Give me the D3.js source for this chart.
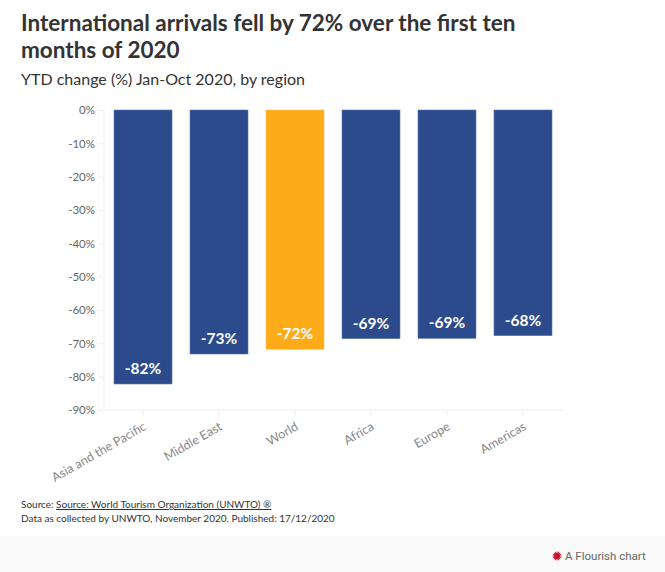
<!DOCTYPE html>
<html>
<head>
<meta charset="utf-8">
<script src="https://cdn.jsdelivr.net/npm/d3@7"></script>
<style>
  html, body { margin: 0; padding: 0; background: #fff; }
  svg { display: block; }
</style>
</head>
<body>
<svg id="chart" width="665" height="572"></svg>
<script>
const categories = ["Asia and the Pacific", "Middle East", "World", "Africa", "Europe", "Americas"];
const values = [-82.2, -73.2, -71.8, -68.6, -68.5, -67.7];
const valueLabels = ["-82%", "-73%", "-72%", "-69%", "-69%", "-68%"];
const highlight = ["World"];
const yTicks = [0, -10, -20, -30, -40, -50, -60, -70, -80, -90];

const svg = d3.select("#chart");
const FONT = "Lato, 'Source Sans Pro', 'Noto Sans', sans-serif";
const BLUE = "#2c4b8c", ORANGE = "#fdab19";

// footer band
svg.append("rect").attr("x", 0).attr("y", 536).attr("width", 665).attr("height", 36).attr("fill", "#fafafa");

// title
const title = svg.append("text").attr("x", 21).attr("font-family", FONT).attr("font-weight", 700)
  .attr("font-size", 22.5).attr("fill", "#333");
title.append("tspan").attr("x", 21).attr("y", 31).text("International arrivals fell by 72% over the first ten");
title.append("tspan").attr("x", 21).attr("y", 58).text("months of 2020");

svg.append("text").attr("x", 21).attr("y", 85).attr("font-family", FONT).attr("font-size", 16)
  .attr("fill", "#333").text("YTD change (%) Jan-Oct 2020, by region");

const x = d3.scaleBand().domain(categories).range([103, 563]).paddingInner(0.237).paddingOuter(0.145);
const y = d3.scaleLinear().domain([0, -90]).range([110, 410]);

// y axis
const yAxis = svg.append("g").attr("transform", "translate(104,0)")
  .call(d3.axisLeft(y).tickValues(yTicks).tickFormat(d => d + "%").tickSize(6).tickPadding(3));
yAxis.select(".domain").attr("stroke", "#eee").attr("d", "M0,110V410");
yAxis.selectAll(".tick line").attr("stroke", "#eee");
yAxis.selectAll(".tick text").attr("font-family", FONT).attr("font-size", 11.5).attr("fill", "#666");

// x axis
const xAxis = svg.append("g").attr("transform", "translate(0,410)")
  .call(d3.axisBottom(x).tickSize(6).tickSizeOuter(0));
xAxis.select(".domain").attr("stroke", "#eee").attr("d", "M103,0H563");
xAxis.selectAll(".tick line").attr("stroke", "#eee");
xAxis.selectAll(".tick text").attr("font-family", FONT).attr("font-size", 12.5).attr("fill", "#888")
  .attr("text-anchor", "end").attr("dy", null).attr("y", 0)
  .attr("transform", "translate(4,19) rotate(-30)");

// bars
svg.append("g").selectAll("rect").data(categories).join("rect")
  .attr("x", d => x(d)).attr("width", x.bandwidth())
  .attr("y", y(0)).attr("height", (d, i) => y(values[i]) - y(0))
  .attr("fill", d => highlight.includes(d) ? ORANGE : BLUE)
  .attr("stroke", d => highlight.includes(d) ? "#fdc45a" : "#5a76ad").attr("stroke-width", 0.6);

// value labels
svg.append("g").selectAll("text").data(categories).join("text")
  .attr("x", d => x(d) + x.bandwidth() / 2)
  .attr("y", (d, i) => y(values[i]) - 10)
  .attr("text-anchor", "middle").attr("font-family", FONT).attr("font-weight", 700)
  .attr("font-size", 15.5).attr("fill", "#fff")
  .text((d, i) => valueLabels[i]);

// footer
const f1 = svg.append("text").attr("x", 21).attr("y", 508).attr("font-family", FONT).attr("font-size", 10).attr("fill", "#333");
f1.append("tspan").text("Source: ");
f1.append("tspan").attr("text-decoration", "underline").text("Source: World Tourism Organization (UNWTO) \u00AE");
svg.append("text").attr("x", 21).attr("y", 522).attr("font-family", FONT).attr("font-size", 10).attr("fill", "#333")
  .text("Data as collected by UNWTO, November 2020. Published: 17/12/2020");

// Flourish badge
const badge = svg.append("g").attr("transform", "translate(557,556)");
const rays = d3.range(16);
badge.selectAll("line").data(rays).join("line")
  .attr("x1", 0).attr("y1", 0)
  .attr("x2", d => 4.5 * Math.cos(d / 16 * 2 * Math.PI)).attr("y2", d => 4.5 * Math.sin(d / 16 * 2 * Math.PI))
  .attr("stroke", "#e0232b").attr("stroke-width", 1);
badge.append("circle").attr("r", 3).attr("fill", "#c8102e");
svg.append("text").attr("x", 565).attr("y", 560).attr("font-family", "Roboto, Arial, sans-serif")
  .attr("font-size", 11.5).attr("fill", "#666").text("A Flourish chart");
</script>
</body>
</html>
